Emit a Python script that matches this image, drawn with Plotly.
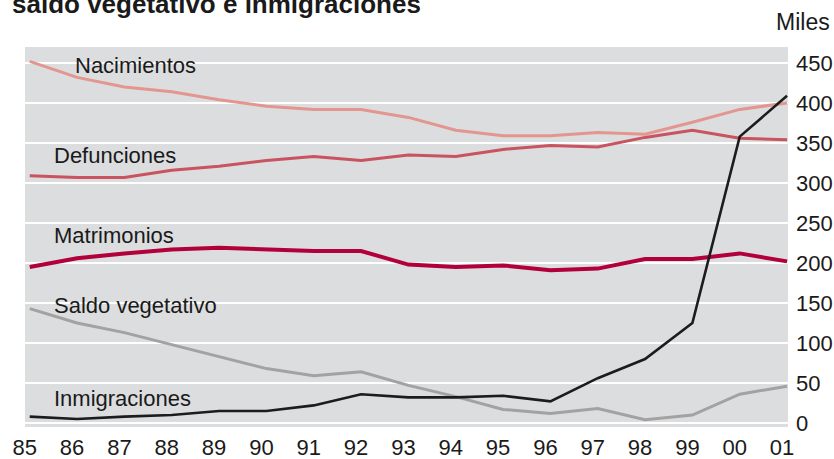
import plotly.graph_objects as go

# Years (1985-2001) and their two-digit tick labels
years = list(range(85, 102))
year_labels = ["85", "86", "87", "88", "89", "90", "91", "92", "93",
               "94", "95", "96", "97", "98", "99", "00", "01"]

# Values in thousands
nacimientos = [452, 432, 420, 414, 404, 396, 392, 392, 382, 366, 359, 359, 363, 361, 376, 392, 400]
defunciones = [309, 307, 307, 316, 321, 328, 333, 328, 335, 333, 342, 347, 345, 357, 366, 356, 354]
matrimonios = [195, 206, 212, 217, 219, 217, 215, 215, 198, 195, 197, 191, 193, 205, 205, 212, 202]
saldo_vegetativo = [143, 125, 113, 98, 83, 68, 59, 64, 47, 33, 17, 12, 18, 4, 10, 36, 46]
inmigraciones = [8, 5, 8, 10, 15, 15, 22, 36, 32, 32, 34, 27, 56, 80, 125, 358, 409]

y_ticks = [0, 50, 100, 150, 200, 250, 300, 350, 400, 450]

FONT = "Liberation Sans, Arial, sans-serif"
INK = "#1a1a1a"

series = [
    ("Nacimientos", nacimientos, "#e3968f", 3),
    ("Defunciones", defunciones, "#c9535e", 3),
    ("Matrimonios", matrimonios, "#b1003a", 4),
    ("Saldo vegetativo", saldo_vegetativo, "#a2a2a2", 3),
    ("Inmigraciones", inmigraciones, "#1c1c1c", 2.6),
]

fig = go.Figure()
for name, vals, color, width in series:
    fig.add_trace(go.Scatter(
        x=years, y=vals, mode="lines", name=name,
        line=dict(color=color, width=width),
        hoverinfo="skip",
    ))

# Series names written inside the plot, next to their lines
labels = [
    ("Nacimientos", 85.91, 447),
    ("Defunciones", 85.46, 335),
    ("Matrimonios", 85.46, 234),
    ("Saldo vegetativo", 85.46, 147),
    ("Inmigraciones", 85.46, 31),
]
for text, x, y in labels:
    fig.add_annotation(x=x, y=y, xref="x", yref="y", text=text,
                       showarrow=False, xanchor="left", yanchor="middle",
                       font=dict(family=FONT, size=22, color=INK))

fig.add_annotation(x=-0.0197, y=1.112, xref="paper", yref="paper",
                   text="<b>saldo vegetativo e inmigraciones</b>",
                   showarrow=False, xanchor="left", yanchor="middle",
                   font=dict(family=FONT, size=26, color=INK))
fig.add_annotation(x=1.0577, y=1.066, xref="paper", yref="paper",
                   text="Miles", showarrow=False, xanchor="right", yanchor="middle",
                   font=dict(family=FONT, size=23, color=INK))

fig.update_layout(
    width=834, height=459,
    margin=dict(l=25, r=46, t=47, b=32, autoexpand=False),
    paper_bgcolor="white",
    plot_bgcolor="#dcdddf",
    showlegend=False,
    font=dict(family=FONT, size=22, color=INK),
)
fig.update_xaxes(
    range=[84.9, 101.02], tickmode="array", tickvals=years, ticktext=year_labels,
    showgrid=False, zeroline=False, showline=False, ticks="", automargin=False,
    ticklabelstandoff=5, ticklabelshift=-5,
    tickfont=dict(family=FONT, size=22, color=INK),
)
fig.update_yaxes(
    range=[-5, 470], side="right", tickmode="array", tickvals=y_ticks,
    showgrid=True, gridcolor="white", gridwidth=2, zeroline=False,
    showline=False, ticks="", ticklabelstandoff=7, automargin=False,
    tickfont=dict(family=FONT, size=22, color=INK),
)

fig.write_html("out.html")
